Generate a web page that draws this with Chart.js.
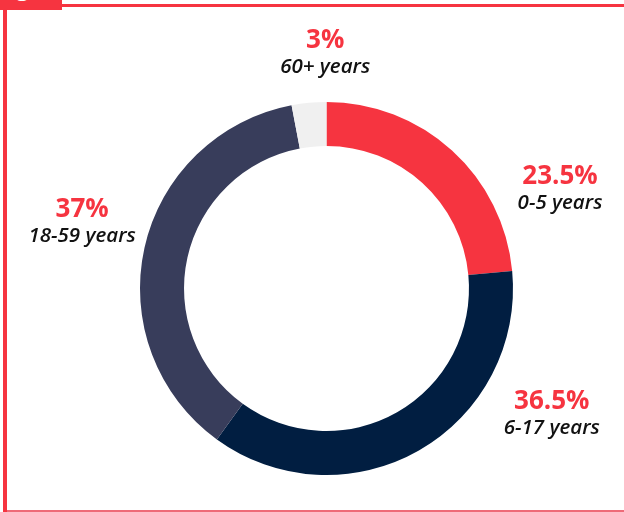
<!DOCTYPE html>
<html>
<head>
<meta charset="utf-8">
<script src="https://cdn.jsdelivr.net/npm/chart.js"></script>
<style>
  html, body { margin: 0; padding: 0; background: #fff; }
  #wrap { position: relative; width: 624px; height: 512px; overflow: hidden; }
  #frameLeft { position: absolute; left: 3px; top: 8px; width: 4px; height: 504px; background: #f63440; }
  #frameTop { position: absolute; left: 60px; top: 4px; width: 564px; height: 3px; background: #f63440; }
  #frameBottom { position: absolute; left: 7px; top: 510px; width: 617px; height: 2px; background: #ee6b78; }
  #tab { position: absolute; left: 0; top: 0; width: 62px; height: 10px; background: #f63440; overflow: hidden; }
  #tab span { position: absolute; left: 16px; top: -31px; line-height: 33px; color: #fff; font: 600 24px 'Open Sans', sans-serif; }
  canvas { position: absolute; left: 0; top: 0; }
</style>
</head>
<body>
<div id="wrap">
  <canvas id="ageChart" width="624" height="512"></canvas>
  <div id="tab"><span>g</span></div>
  <div id="frameTop"></div>
  <div id="frameLeft"></div>
  <div id="frameBottom"></div>
</div>
<script>
// age groups, share of total (%)
var categories = ['0-5 years', '6-17 years', '18-59 years', '60+ years'];
var shares = [23.5, 36.5, 37, 3];
var shareLabels = ['23.5%', '36.5%', '37%', '3%'];
var sliceColors = ['#f63440', '#011e41', '#383d5b', '#f0f0f0'];

// label anchors, in units of the outer radius from the centre
var labelOffsets = [[1.252, -0.56], [1.208, 0.648], [-1.31, -0.385], [-0.007, -1.29]];

var outsideLabels = {
  id: 'outsideLabels',
  afterDraw: function (chart) {
    var ctx = chart.ctx;
    var arcs = chart.getDatasetMeta(0).data;
    ctx.save();
    ctx.textAlign = 'center';
    ctx.textBaseline = 'alphabetic';
    arcs.forEach(function (arc, i) {
      var r = arc.outerRadius;
      var x = arc.x + labelOffsets[i][0] * r;
      var y = arc.y + labelOffsets[i][1] * r;
      ctx.fillStyle = '#f63440';
      ctx.font = "bold 26px 'Open Sans', sans-serif";
      ctx.fillText(shareLabels[i], x, y);
      ctx.fillStyle = '#111111';
      ctx.font = "italic 600 20.5px 'Open Sans', sans-serif";
      ctx.fillText(categories[i], x, y + 25);
    });
    ctx.restore();
  }
};

var ageChart = new Chart(document.getElementById('ageChart'), {
  type: 'doughnut',
  data: {
    labels: categories,
    datasets: [{
      data: shares,
      backgroundColor: sliceColors,
      borderWidth: 0,
      hoverOffset: 0
    }]
  },
  options: {
    animation: false,
    responsive: false,
    cutout: '76.4%',
    layout: {
      padding: { top: 102, bottom: 37, left: 140, right: 111 }
    },
    plugins: {
      legend: { display: false },
      tooltip: { enabled: false }
    }
  },
  plugins: [outsideLabels]
});
</script>
</body>
</html>
